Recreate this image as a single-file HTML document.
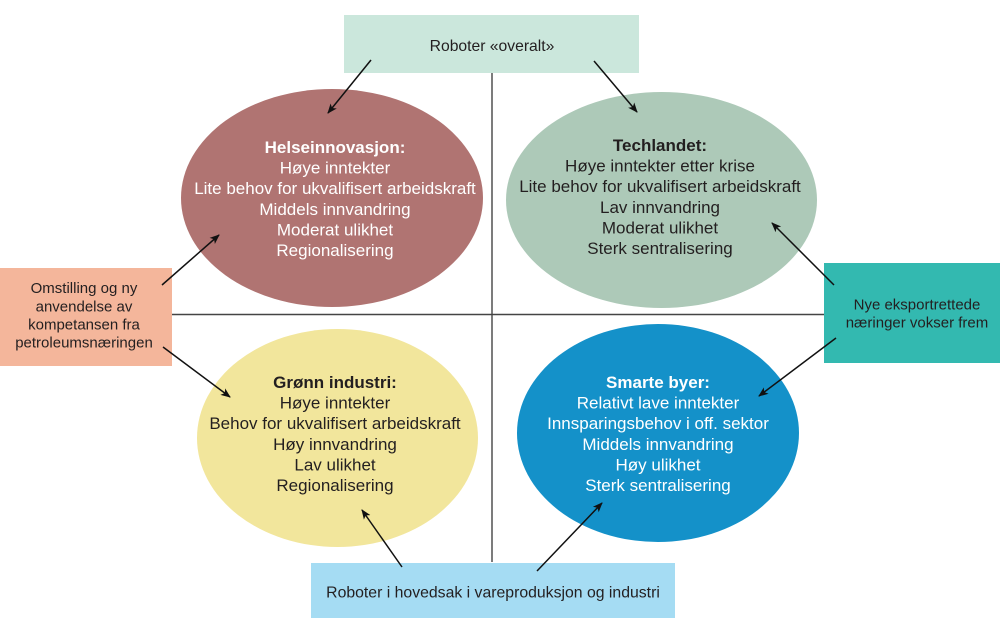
<!DOCTYPE html>
<html>
<head>
<meta charset="utf-8">
<style>
html,body{margin:0;padding:0;background:#fff;}
body{width:1000px;height:634px;overflow:hidden;}
svg{display:block;}
text{font-family:"Liberation Sans", Arial, sans-serif;}
</style>
</head>
<body>
<svg width="1000" height="634" viewBox="0 0 1000 634" xmlns="http://www.w3.org/2000/svg">
<defs>
<marker id="ah" markerWidth="10" markerHeight="10" refX="9" refY="5" orient="auto" markerUnits="userSpaceOnUse">
<path d="M0,1 L10,5 L0,9 L2.5,5 Z" fill="#111"/>
</marker>
</defs>

<!-- axes -->
<line x1="492" y1="73" x2="492" y2="562" stroke="#444" stroke-width="1.4"/>
<line x1="172" y1="314.5" x2="824" y2="314.5" stroke="#444" stroke-width="1.4"/>

<!-- ellipses -->
<ellipse cx="332" cy="198" rx="151" ry="109" fill="#b07472"/>
<ellipse cx="661.5" cy="200" rx="155.5" ry="108" fill="#adc9b8"/>
<ellipse cx="337.5" cy="438" rx="140.5" ry="109" fill="#f2e69c"/>
<ellipse cx="658" cy="433" rx="141" ry="109" fill="#1491c9"/>

<!-- boxes -->
<rect x="344" y="15" width="295" height="58" fill="#cbe7dc"/>
<rect x="0" y="268" width="172" height="98" fill="#f4b69b"/>
<rect x="824" y="263" width="176" height="100" fill="#33b9b0"/>
<rect x="311" y="563" width="364" height="55" fill="#a5dcf3"/>

<!-- box text -->
<text x="492" y="51" font-size="15.7" fill="#231f20" text-anchor="middle">Roboter «overalt»</text>
<g font-size="15" fill="#231f20" text-anchor="middle">
<text x="84" y="293">Omstilling og ny</text>
<text x="84" y="311.5">anvendelse av</text>
<text x="84" y="329.5">kompetansen fra</text>
<text x="84" y="347.5">petroleumsnæringen</text>
<text x="917" y="309.5">Nye eksportrettede</text>
<text x="917" y="327.5">næringer vokser frem</text>
</g>
<text x="493" y="597.5" font-size="15.8" fill="#231f20" text-anchor="middle">Roboter i hovedsak i vareproduksjon og industri</text>

<!-- ellipse text -->
<g font-size="17" fill="#ffffff" text-anchor="middle">
<text x="335" y="153" font-weight="bold">Helseinnovasjon:</text>
<text x="335" y="173.5">Høye inntekter</text>
<text x="335" y="194">Lite behov for ukvalifisert arbeidskraft</text>
<text x="335" y="215">Middels innvandring</text>
<text x="335" y="235.5">Moderat ulikhet</text>
<text x="335" y="256">Regionalisering</text>
</g>
<g font-size="17" fill="#231f20" text-anchor="middle">
<text x="660" y="151" font-weight="bold">Techlandet:</text>
<text x="660" y="171.5">Høye inntekter etter krise</text>
<text x="660" y="192">Lite behov for ukvalifisert arbeidskraft</text>
<text x="660" y="213">Lav innvandring</text>
<text x="660" y="233.5">Moderat ulikhet</text>
<text x="660" y="254">Sterk sentralisering</text>
</g>
<g font-size="17" fill="#231f20" text-anchor="middle">
<text x="335" y="388" font-weight="bold">Grønn industri:</text>
<text x="335" y="408.5">Høye inntekter</text>
<text x="335" y="429">Behov for ukvalifisert arbeidskraft</text>
<text x="335" y="450">Høy innvandring</text>
<text x="335" y="470.5">Lav ulikhet</text>
<text x="335" y="491">Regionalisering</text>
</g>
<g font-size="17" fill="#ffffff" text-anchor="middle">
<text x="658" y="388" font-weight="bold">Smarte byer:</text>
<text x="658" y="408.5">Relativt lave inntekter</text>
<text x="658" y="429">Innsparingsbehov i off. sektor</text>
<text x="658" y="450">Middels innvandring</text>
<text x="658" y="470.5">Høy ulikhet</text>
<text x="658" y="491">Sterk sentralisering</text>
</g>

<!-- arrows -->
<g stroke="#111" stroke-width="1.5" fill="none" marker-end="url(#ah)">
<line x1="371" y1="60" x2="328" y2="113"/>
<line x1="594" y1="61" x2="637" y2="112"/>
<line x1="162" y1="285" x2="219" y2="235"/>
<line x1="163" y1="347" x2="230" y2="397"/>
<line x1="402" y1="567" x2="362" y2="510"/>
<line x1="537" y1="571" x2="602" y2="503"/>
<line x1="834" y1="285" x2="772" y2="223"/>
<line x1="836" y1="338" x2="759" y2="396"/>
</g>
</svg>
</body>
</html>
